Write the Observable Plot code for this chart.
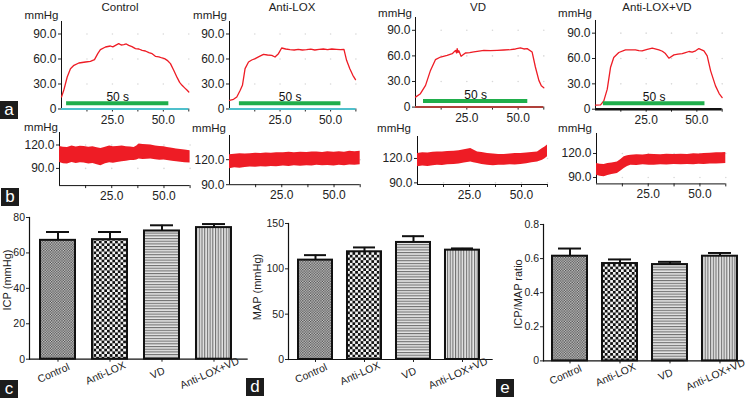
<!DOCTYPE html>
<html><head><meta charset="utf-8">
<script src="https://cdn.jsdelivr.net/npm/d3@7"></script>
<script src="https://cdn.jsdelivr.net/npm/@observablehq/plot@0.6"></script>
<style>
html,body{margin:0;padding:0;background:#fff;}
body{width:750px;height:405px;overflow:hidden;position:relative;font-family:"Liberation Sans",Arial,sans-serif;color:#222;}
.t{position:absolute;transform:translate(-50%,-50%);white-space:nowrap;font-size:11.5px;line-height:13px;}
.r{position:absolute;transform:translate(-50%,-50%) rotate(-90deg);white-space:nowrap;font-size:11px;line-height:13px;}
.box{position:absolute;width:18px;height:18px;background:#1c1c1c;color:#fff;font-size:17px;line-height:17px;text-align:center;}
svg.plot{position:absolute;overflow:visible;}
</style></head>
<body>
<svg width="0" height="0" style="position:absolute">
 <defs>
  <pattern id="pCtrl" width="2.6" height="2.6" patternUnits="userSpaceOnUse">
   <rect width="2.6" height="2.6" fill="#cfcfcf"/><rect width="1.3" height="1.3" fill="#4a4a4a"/><rect x="1.3" y="1.3" width="1.3" height="1.3" fill="#4a4a4a"/>
  </pattern>
  <pattern id="pLox" width="5.4" height="5.4" patternUnits="userSpaceOnUse">
   <rect width="5.4" height="5.4" fill="#f4f4f4"/><rect width="2.7" height="2.7" fill="#111"/><rect x="2.7" y="2.7" width="2.7" height="2.7" fill="#111"/>
  </pattern>
  <pattern id="pVD" width="4" height="2.7" patternUnits="userSpaceOnUse">
   <rect width="4" height="2.7" fill="#e6e6e6"/><rect width="4" height="1.1" fill="#6f6f6f"/>
  </pattern>
  <pattern id="pBoth" width="2.7" height="4" patternUnits="userSpaceOnUse">
   <rect width="2.7" height="4" fill="#e6e6e6"/><rect width="1.1" height="4" fill="#6f6f6f"/>
  </pattern>
 </defs>
</svg>
<script>
// ---------------- data ----------------
const groups = ["Control", "Anti-LOX", "VD", "Anti-LOX+VD"];

// (a) ICP traces: [time s, mmHg]
const icpControl = [[0,14.4],[1.1,22.4],[2.8,38.4],[4.4,48.4],[6.1,52.4],[8.5,55.2],[11.8,56.4],[14.2,57.2],[16.2,59.2],[17.8,66.4],[19.1,71.2],[21.6,74.4],[24.0,75.6],[25.2,74.6],[26.5,76.4],[28.1,78.4],[29.3,76.8],[30.6,77.2],[31.8,78.0],[33.0,76.4],[34.6,74.8],[36.3,72.4],[38.0,72.0],[39.6,70.4],[41.2,69.6],[42.9,67.6],[44.5,66.4],[46.1,63.2],[47.8,62.6],[49.4,61.2],[50.6,60.4],[51.9,58.4],[53.5,54.4],[55.1,46.4],[56.8,37.6],[58.0,32.0],[59.2,28.4],[60.6,25.0],[61.7,22.4],[62.5,20.4]];
const icpAntiLOX = [[0,10.4],[2.0,11.6],[3.6,14.4],[5.3,22.4],[6.4,28.4],[7.7,48.4],[9.4,56.4],[11.0,58.8],[12.7,60.4],[14.8,63.2],[16.8,65.6],[18.8,64.8],[20.9,64.4],[22.5,62.4],[24.2,66.4],[25.8,73.2],[27.8,72.0],[29.9,71.2],[32.0,70.8],[34.0,71.6],[36.0,70.8],[38.1,71.2],[40.2,71.8],[42.2,70.8],[44.3,71.6],[46.4,72.0],[48.5,71.2],[50.6,72.0],[52.9,71.6],[54.8,71.2],[56.6,71.6],[57.9,58.4],[59.5,48.4],[61.0,40.4],[62.3,35.2]];
const icpVD = [[0,11.7],[2.4,15.7],[4.9,25.4],[7.3,43.0],[9.7,55.6],[12.2,58.7],[15.4,60.7],[17.9,62.6],[19.5,66.5],[20.0,63.5],[20.3,68.5],[20.7,64.0],[21.1,66.0],[22.2,59.5],[24.3,63.4],[26.4,63.8],[28.4,64.6],[30.9,65.6],[33.3,66.5],[36.5,66.1],[39.8,66.5],[43.0,66.9],[46.3,67.3],[48.7,68.1],[51.1,69.3],[52.8,68.1],[54.4,68.5],[56.8,64.6],[58.4,47.0],[60.1,31.3],[61.3,25.0],[62.5,22.7]];
const icpBoth = [[0,4.7],[2.5,5.1],[4.1,9.9],[5.8,23.7],[7.4,49.3],[9.0,61.2],[11.5,67.1],[14.8,70.3],[17.2,70.3],[19.7,70.3],[21.4,69.3],[23.0,69.1],[25.5,70.8],[28.0,72.2],[31.3,70.3],[33.0,68.6],[34.5,65.9],[36.2,60.4],[38.7,64.3],[40.7,65.1],[42.8,65.9],[44.4,67.1],[46.1,68.3],[47.7,67.5],[49.4,69.1],[51.0,71.8],[53.5,69.1],[55.1,63.2],[56.8,45.4],[59.2,27.6],[61.0,18.5],[62.5,13.8]];
// stimulus window (s)
const stimControl = [2.5, 52.7];
const stimAntiLOX = [4.9, 55.1];
const stimVD = [3.9, 54.7];
const stimBoth = [3.9, 54.0];

// (b) MAP traces: [time s, low mmHg, high mmHg]
const mapControl = [[0,97.7,118.2],[1.9,96.0,117.0],[3.8,95.6,116.9],[6.0,97.5,118.6],[8.0,96.4,117.4],[10.0,97.2,118.4],[11.8,96.9,118.2],[14.0,95.8,117.0],[16.0,96.2,117.6],[18.0,94.8,116.4],[19.8,93.5,115.6],[22.0,96.0,117.2],[24.0,97.1,118.6],[25.8,96.6,117.8],[27.7,97.7,118.2],[30.0,98.4,118.8],[32.0,99.2,117.6],[34.0,100.0,117.4],[35.7,100.3,116.9],[37.0,100.8,118.6],[38.1,102.0,121.3],[40.0,101.4,120.6],[42.0,101.8,120.2],[43.7,102.0,120.0],[46.0,101.0,118.8],[48.0,100.6,118.0],[50.0,100.8,117.6],[51.6,100.3,116.9],[54.0,99.2,115.8],[56.0,98.6,114.8],[58.0,98.0,114.2],[60.0,97.4,113.6],[62.5,96.9,112.7]];
const mapAntiLOX = [[0,109.2,126.0],[2.5,110.2,126.6],[5.0,109.8,127.0],[7.5,110.6,126.8],[9.9,111.1,127.2],[12.5,110.8,127.8],[15.0,111.6,127.4],[17.5,111.2,128.0],[20.0,111.8,127.6],[22.5,111.4,128.4],[25.8,112.3,128.4],[28.5,111.8,128.8],[31.0,112.6,128.2],[34.0,112.0,129.0],[37.0,112.8,128.6],[39.5,112.4,129.2],[41.8,113.2,129.1],[44.5,112.6,128.6],[47.0,113.0,129.4],[50.0,112.4,128.8],[52.5,113.4,129.6],[55.0,112.8,129.0],[57.5,113.6,130.0],[60.0,113.2,129.4],[62.5,114.0,130.0]];
const mapVD = [[0,109.7,126.2],[2.5,110.6,127.0],[5.0,110.2,126.6],[7.5,111.2,127.6],[9.6,111.8,128.1],[12.0,111.4,127.8],[14.5,112.4,128.6],[17.6,112.6,128.9],[20.0,113.2,129.6],[22.5,114.4,130.8],[25.6,115.8,132.3],[27.0,114.6,130.4],[28.9,113.8,128.1],[31.0,112.6,127.2],[33.7,111.8,126.2],[36.5,111.2,125.6],[39.0,111.6,125.0],[41.7,111.8,124.9],[44.5,112.2,125.6],[47.0,112.0,126.0],[49.7,112.6,126.2],[52.5,113.6,126.8],[55.0,114.6,127.4],[57.7,115.8,128.1],[60.1,117.9,132.3],[61.3,119.6,134.0],[62.5,122.0,136.4]];
const mapBoth = [[0,92.9,107.5],[1.8,91.6,106.6],[3.7,90.8,106.2],[5.5,92.4,107.6],[7.5,93.6,108.0],[10.1,95.0,109.5],[11.8,98.0,112.6],[13.4,101.3,115.8],[15.0,103.6,117.2],[16.6,105.4,117.9],[19.5,105.0,118.4],[22.5,105.8,118.2],[25.5,105.2,119.0],[27.9,105.4,118.7],[31.0,106.0,118.4],[34.0,105.6,119.2],[37.5,106.2,118.6],[41.0,105.8,119.0],[44.0,106.2,118.7],[47.0,106.0,119.6],[49.5,106.6,119.4],[52.0,106.2,120.0],[55.0,106.8,120.4],[58.0,107.0,120.8],[60.5,107.2,121.0],[62.5,107.5,121.3]];

// (c)(d)(e) bar means and upper error
const icpMean = [67.1, 67.5, 72.4, 74.3];
const icpErr = [71.8, 71.8, 75.6, 76.3];
const mapMean = [109.6, 118.8, 129.1, 120.6];
const mapErr = [115.1, 123.6, 136.0, 122.5];
const ratioMean = [0.614, 0.571, 0.565, 0.614];
const ratioErr = [0.659, 0.595, 0.581, 0.633];

// ticks
const timeTicks = [12.5, 25, 37.5, 50, 62.5];
const timeLabels = [25, 50];
const icpTraceTicks = [0, 30, 60, 90];
const mapTraceTicks = [90, 120];

// ---------------- styling ----------------
const RED = "#ee1c25", GREEN = "#1fae4b";
const patternOf = {"Control":"url(#pCtrl)", "Anti-LOX":"url(#pLox)", "VD":"url(#pVD)", "Anti-LOX+VD":"url(#pBoth)"};
const baseStyle = {fontFamily:"'Liberation Sans', Arial, sans-serif", fontSize:"12px", color:"#222", background:"transparent", overflow:"visible"};

function mount(svg, frame, m) {
  svg.style.left = (frame[0] - m.left) + "px";
  svg.style.top = (frame[2] - m.top) + "px";
  document.body.appendChild(svg);
}
function plotIn(frame, m, opts) {
  const svg = Plot.plot({
    width: frame[1] - frame[0] + m.left + m.right,
    height: frame[3] - frame[2] + m.top + m.bottom,
    marginLeft: m.left, marginRight: m.right, marginTop: m.top, marginBottom: m.bottom,
    style: baseStyle, ...opts
  });
  svg.classList.add("plot");
  mount(svg, frame, m);
}
function text(s, x, y, size, cls) {
  const d = document.createElement("div");
  d.className = cls || "t"; d.textContent = s;
  d.style.left = x + "px"; d.style.top = y + "px";
  if (size) d.style.fontSize = size + "px";
  document.body.appendChild(d);
}
function box(s, x, y) {
  const d = document.createElement("div");
  d.className = "box"; d.textContent = s;
  d.style.left = x + "px"; d.style.top = y + "px";
  document.body.appendChild(d);
}

const tm = {left: 40, right: 6, top: 6, bottom: 22};
function timeAxis() {
  return Plot.axisX({ticks: timeTicks, tickSize: 3, tickPadding: 3, fontSize: 12, label: null,
    tickFormat: d => timeLabels.includes(d) ? d.toFixed(1) : ""});
}
function gridDots(yTicks) {
  const pts = [];
  for (const x of timeTicks) for (const y of yTicks) pts.push([x, y]);
  return Plot.dot(pts, {x: d => d[0], y: d => d[1], r: 0.8, fill: "#d8d8d8", stroke: null});
}

// ---- row a ----
function icpPanel(data, stim, frame, baseColor, baseWidth) {
  const yMax = 105;
  plotIn(frame, tm, {
    x: {domain: [0, 62.5]}, y: {domain: [0, yMax]},
    marks: [
      gridDots([30, 60, 90]),
      Plot.axisY({ticks: icpTraceTicks, tickSize: 3, tickPadding: 2, fontSize: 12, label: null, tickFormat: d => d === 0 ? "0" : d.toFixed(1)}),
      timeAxis(),
      Plot.ruleX([0], {y1: 0, y2: yMax, stroke: "#111", strokeWidth: 1}),
      Plot.ruleY([0], {stroke: baseColor, strokeWidth: baseWidth}),
      Plot.line(data, {x: d => d[0], y: d => d[1], stroke: RED, strokeWidth: 1.3, curve: "linear"}),
      Plot.ruleY([7], {x1: stim[0], x2: stim[1], stroke: GREEN, strokeWidth: 4}),
      Plot.text(["50 s"], {x: (stim[0] + stim[1]) / 2, y: 14.5, fontSize: 12, fill: "#111"})
    ]
  });
}
icpPanel(icpControl, stimControl, [61, 188.3, 21.2, 108.7], "#4fc0cc", 2);
icpPanel(icpAntiLOX, stimAntiLOX, [229.3, 355.7, 21.2, 108.7], "#4fc0cc", 2);
icpPanel(icpVD, stimVD, [415, 543.3, 17.1, 106.7], "#b0403a", 2);
icpPanel(icpBoth, stimBoth, [595, 721.7, 19.6, 108.3], "#111", 2.5);

text("Control", 120, 7, 11.5);
text("Anti-LOX", 292, 7, 11.5);
text("VD", 478, 7, 11.5);
text("Anti-LOX+VD", 657, 7, 11.5);
text("mmHg", 41.5, 15);
text("mmHg", 210, 15);
text("mmHg", 395, 13);
text("mmHg", 575, 13);

// ---- row b ----
function mapPanel(data, frame, dom) {
  plotIn(frame, tm, {
    x: {domain: [0, 62.5]}, y: {domain: dom},
    marks: [
      gridDots(mapTraceTicks),
      Plot.axisY({ticks: mapTraceTicks, tickSize: 3, tickPadding: 2, fontSize: 12, label: null, tickFormat: d => d.toFixed(1)}),
      timeAxis(),
      Plot.ruleX([0], {y1: dom[0], y2: dom[1], stroke: "#111", strokeWidth: 1}),
      Plot.ruleY([dom[0]], {stroke: "#111", strokeWidth: 1}),
      Plot.areaY(data, {x: d => d[0], y1: d => d[1], y2: d => d[2], fill: RED, curve: "linear"})
    ]
  });
}
mapPanel(mapControl, [58.7, 189.3, 131.8, 184.9], [68, 136]);
mapPanel(mapAntiLOX, [229.3, 360, 135.1, 184.3], [90, 149]);
mapPanel(mapVD, [416.7, 546.7, 136.3, 184.3], [88, 147]);
mapPanel(mapBoth, [595.7, 725, 133.3, 183.7], [82, 145]);
text("mmHg", 41, 127);
text("mmHg", 209, 128);
text("mmHg", 394, 128);
text("mmHg", 575, 128);

// ---- bar panels ----
const bm = {left: 30, right: 8, top: 6, bottom: 40};
function barPanel(mean, err, frame, dom, ticks, fmt, xopt) {
  const rows = groups.map((g, i) => ({g, v: mean[i], e: err[i]}));
  plotIn(frame, bm, {
    x: {domain: groups, label: null, ...xopt}, y: {domain: dom, label: null},
    color: {type: "identity"},
    marks: [
      Plot.axisY({ticks, tickSize: 3, tickPadding: 1.5, fontSize: 10.5, label: null, tickFormat: fmt}),
      Plot.axisX({tickSize: 3, label: null, tickFormat: () => ""}),
      Plot.frame({anchor: "left", stroke: "#111", strokeWidth: 1.2}),
      Plot.ruleY([0], {stroke: "#111", strokeWidth: 1.2}),
      Plot.ruleX(rows, {x: "g", y1: "v", y2: "e", stroke: "#111", strokeWidth: 2}),
      Plot.tickY(rows, {x: "g", y: "e", stroke: "#111", strokeWidth: 2, insetLeft: 6, insetRight: 6}),
      Plot.barY(rows, {x: "g", y: "v", fill: d => patternOf[d.g], stroke: "#111", strokeWidth: 2}),
      Plot.text(groups, {x: d => d, frameAnchor: "bottom", dy: 17, dx: -3, rotate: -24, fontSize: 10.5, fill: "#222"})
    ]
  });
}
barPanel(icpMean, icpErr, [29.3, 248, 217.3, 359], [0, 80], [0, 20, 40, 60, 80], d => String(d),
  {paddingInner: 0.335, paddingOuter: 0.245, align: 0.386});
barPanel(mapMean, mapErr, [288.3, 493, 223.3, 359.3], [0, 150], [0, 50, 100, 150], d => String(d),
  {paddingInner: 0.309, paddingOuter: 0.238, align: 0.44});
barPanel(ratioMean, ratioErr, [543.3, 743, 224.3, 360.7], [0, 0.8], [0, 0.2, 0.4, 0.6, 0.8], d => d === 0 ? "0" : d.toFixed(1),
  {paddingInner: 0.304, paddingOuter: 0.137, align: 0.63});
text("ICP (mmHg)", 7, 280, 11, "r");
text("MAP (mmHg)", 257, 287, 11, "r");
text("ICP/MAP ratio", 518, 294, 11, "r");

// panel letters
box("a", 0, 101);
box("b", 1, 188);
box("c", 0, 380);
box("d", 246, 378);
box("e", 496, 379);
</script>
</body></html>
